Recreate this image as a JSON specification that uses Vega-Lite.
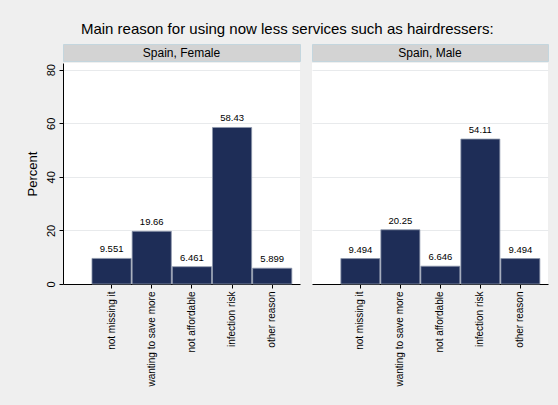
{
  "$schema": "https://vega.github.io/schema/vega-lite/v6.json",
  "background": "#efefef",
  "padding": {"left": 26, "top": 21, "right": 13, "bottom": 18},
  "spacing": 10,
  "title": {"text": "Main reason for using now less services such as hairdressers:", "font": "Liberation Sans", "fontSize": 15, "fontWeight": "normal", "color": "#000000", "anchor": "middle", "offset": 7},
  "config": {"font": "Liberation Sans", "view": {"stroke": null}},
  "datasets": {
    "d": [
      {"panel": "Spain, Female", "reason": "not missing it", "pct": 9.551},
      {"panel": "Spain, Female", "reason": "wanting to save more", "pct": 19.66},
      {"panel": "Spain, Female", "reason": "not affordable", "pct": 6.461},
      {"panel": "Spain, Female", "reason": "infection risk", "pct": 58.43},
      {"panel": "Spain, Female", "reason": "other reason", "pct": 5.899},
      {"panel": "Spain, Male", "reason": "not missing it", "pct": 9.494},
      {"panel": "Spain, Male", "reason": "wanting to save more", "pct": 20.25},
      {"panel": "Spain, Male", "reason": "not affordable", "pct": 6.646},
      {"panel": "Spain, Male", "reason": "infection risk", "pct": 54.11},
      {"panel": "Spain, Male", "reason": "other reason", "pct": 9.494}
    ]
  },
  "hconcat": [
    {
      "spacing": 1,
      "vconcat": [
        {
          "data": {"values": [{"t": "Spain, Female"}]},
          "width": 237, "height": 17,
          "view": {"fill": "#d3d3d3", "stroke": "#c4d6de", "strokeWidth": 1},
          "mark": {"type": "text", "fontSize": 12, "color": "#000000"},
          "encoding": {"text": {"field": "t"}}
        },
        {
          "data": {"name": "d"},
          "transform": [{"filter": "datum.panel === 'Spain, Female'"}],
          "width": 237, "height": 221,
          "view": {"fill": "#ffffff"},
          "encoding": {
            "x": {"field": "reason", "type": "nominal", "sort": null,
              "scale": {"paddingInner": 0.025, "paddingOuter": 0.4625, "align": 0.78},
              "axis": {"title": null, "labelAngle": -90, "labelAlign": "right", "labelBaseline": "middle", "labelFontSize": 10, "labelColor": "#000000", "labelPadding": 3, "tickSize": 4, "tickColor": "#000000", "domainColor": "#000000", "labelFont": "Liberation Sans"}},
            "y": {"field": "pct", "type": "quantitative",
              "scale": {"domain": [0, 82.5], "nice": false},
              "axis": {"title": "Percent", "titleFontSize": 13, "titleFontWeight": "normal", "titleColor": "#000000", "titlePadding": 6, "values": [0, 20, 40, 60, 80], "labelAngle": 270, "labelAlign": "center", "labelBaseline": "bottom", "labelFontSize": 11, "labelColor": "#000000", "labelPadding": 3, "tickSize": 4, "tickColor": "#000000", "domainColor": "#000000", "gridColor": "#e8eaec", "labelFont": "Liberation Sans", "titleFont": "Liberation Sans"}}
          },
          "layer": [
            {"mark": {"type": "bar", "color": "#1e2d57", "stroke": "#8d97ab", "strokeWidth": 0.8}},
            {"mark": {"type": "text", "baseline": "bottom", "dy": -4, "fontSize": 9.5, "color": "#000000"},
              "encoding": {"text": {"field": "pct", "type": "quantitative", "format": ".4r"}}}
          ]
        }
      ]
    },
    {
      "spacing": 1,
      "vconcat": [
        {
          "data": {"values": [{"t": "Spain, Male"}]},
          "width": 236, "height": 17,
          "view": {"fill": "#d3d3d3", "stroke": "#c4d6de", "strokeWidth": 1},
          "mark": {"type": "text", "fontSize": 12, "color": "#000000"},
          "encoding": {"text": {"field": "t"}}
        },
        {
          "data": {"name": "d"},
          "transform": [{"filter": "datum.panel === 'Spain, Male'"}],
          "width": 236, "height": 221,
          "view": {"fill": "#ffffff"},
          "encoding": {
            "x": {"field": "reason", "type": "nominal", "sort": null,
              "scale": {"paddingInner": 0.025, "paddingOuter": 0.4625, "align": 0.78},
              "axis": {"title": null, "labelAngle": -90, "labelAlign": "right", "labelBaseline": "middle", "labelFontSize": 10, "labelColor": "#000000", "labelPadding": 3, "tickSize": 4, "tickColor": "#000000", "domainColor": "#000000", "labelFont": "Liberation Sans"}},
            "y": {"field": "pct", "type": "quantitative",
              "scale": {"domain": [0, 82.5], "nice": false},
              "axis": {"title": null, "values": [0, 20, 40, 60, 80], "labels": false, "ticks": false, "domain": false, "minExtent": 0, "maxExtent": 0, "gridColor": "#e8eaec"}}
          },
          "layer": [
            {"mark": {"type": "bar", "color": "#1e2d57", "stroke": "#8d97ab", "strokeWidth": 0.8}},
            {"mark": {"type": "text", "baseline": "bottom", "dy": -4, "fontSize": 9.5, "color": "#000000"},
              "encoding": {"text": {"field": "pct", "type": "quantitative", "format": ".4r"}}}
          ]
        }
      ]
    }
  ]
}
